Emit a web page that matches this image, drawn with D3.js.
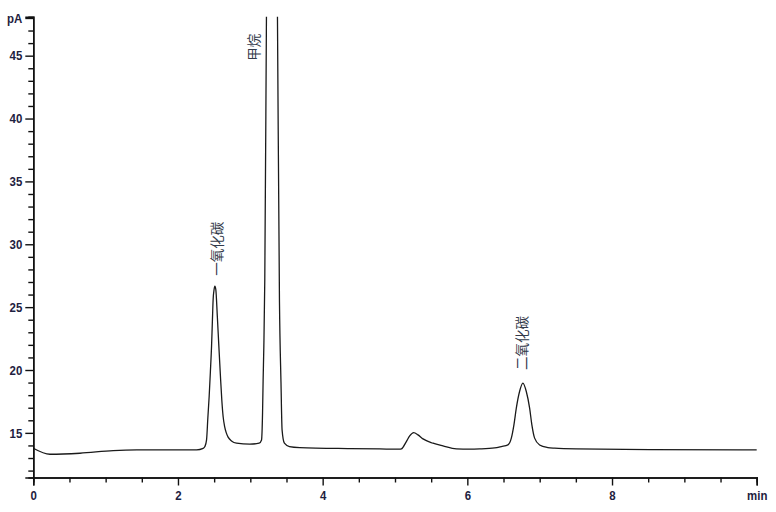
<!DOCTYPE html>
<html>
<head>
<meta charset="utf-8">
<script src="https://cdn.jsdelivr.net/npm/d3@7"></script>
<style>
  html, body { margin: 0; padding: 0; background: #fff; }
  svg { display: block; }
  .tick-label { font-family: "Liberation Sans", Arial, sans-serif; font-weight: bold; font-size: 13px; fill: #1e2140; }
  .peak-label { font-family: "Noto Sans CJK SC", sans-serif; font-size: 13.5px; fill: #333a4a; }
</style>
</head>
<body>
<svg id="chart" width="776" height="512"></svg>
<script>
// ---- data ----
const times = [0, 0.23, 0.645, 1.105, 1.43, 2.257, 2.348,
  2.372, 2.395, 2.413, 2.431, 2.448, 2.464, 2.475, 2.486, 2.499, 2.51, 2.523, 2.544, 2.565, 2.586, 2.606, 2.624, 2.645, 2.668, 2.693, 2.74, 2.809, 2.993, 3.122,
  3.155, 3.169, 3.177, 3.187, 3.2, 3.223, 3.248, 3.297, 3.345, 3.375, 3.403, 3.424, 3.439, 3.471, 3.541, 3.683,
  4.375, 4.789, 5.065, 5.088, 5.157, 5.203, 5.258, 5.318, 5.387, 5.525, 5.663, 5.848, 6.032, 6.17,
  6.377, 6.47, 6.561, 6.608, 6.644, 6.677, 6.722, 6.768, 6.815, 6.861, 6.892, 6.93, 6.999, 7.113, 7.206,
  7.506, 8.518, 10];
const signal = [13.78, 13.30, 13.38, 13.59, 13.64, 13.64, 13.76,
  13.91, 14.44, 16.2, 17.89, 19.86, 21.88, 23.77, 25.6, 26.4, 26.67, 26.4, 24.25, 21.9, 19.6, 17.6, 16.3, 15.5, 15.0, 14.66, 14.36, 14.18, 14.10, 14.18,
  14.44, 16.57, 19.2, 21.9, 27.2, 48.2, 70, 100, 70, 48.2, 25.4, 19, 15.24, 14.18, 13.91, 13.83,
  13.75, 13.72, 13.70, 13.72, 14.31, 14.76, 15.02, 14.84, 14.52, 14.18, 13.96, 13.72, 13.70, 13.72,
  13.80, 13.91, 14.04, 14.58, 15.64, 16.97, 18.29, 18.96, 18.29, 16.97, 15.64, 14.58, 14.04, 13.83, 13.78,
  13.72, 13.67, 13.64];

const peakNames = ["一氧化碳", "甲烷", "二氧化碳"];
const peakLabelTimes = [2.52, 3.035, 6.735];
const peakLabelValues = [27.5, 44.6, 20.0];

const xMajorTicks = [0, 2, 4, 6, 8, 10];
const xMajorLabels = ["0", "2", "4", "6", "8", "min"];
const yMajorTicks = [15, 20, 25, 30, 35, 40, 45, 48];
const yMajorLabels = ["15", "20", "25", "30", "35", "40", "45", "pA"];

// ---- layout ----
const svg = d3.select("#chart");
const mLeft = 33.3, mRight = 756.7, mTop = 16.7, mBottom = 477.5;
const x = d3.scaleLinear().domain([0, 10]).range([mLeft, mRight]);
const y = d3.scaleLinear().domain([11.45, 48.1]).range([mBottom, mTop]);
const squeeze = 0.88;

const xMinor = d3.range(0, 10.001, 0.5).filter(v => !xMajorTicks.includes(v));
const yMinor = d3.range(12, 48.001, 1).filter(v => !yMajorTicks.includes(v));

// clip for the signal
svg.append("defs").append("clipPath").attr("id", "plotclip")
  .append("rect").attr("x", mLeft).attr("y", mTop).attr("width", mRight - mLeft + 2).attr("height", mBottom - mTop);

const pts = times.map((t, i) => [t, signal[i]]);
const line = d3.line().x(d => x(d[0])).y(d => y(d[1])).curve(d3.curveMonotoneX);
svg.append("path")
  .attr("d", line(pts))
  .attr("clip-path", "url(#plotclip)")
  .attr("fill", "none")
  .attr("stroke", "#1a1a1a")
  .attr("stroke-width", 1.3)
  .attr("stroke-linejoin", "round");

// ---- axes ----
const xAxisMajor = d3.axisBottom(x).tickValues(xMajorTicks).tickSize(8).tickPadding(5)
  .tickFormat((d, i) => xMajorLabels[i]);
const xAxisMinor = d3.axisBottom(x).tickValues(xMinor).tickSize(5).tickFormat("");
const yAxisMajor = d3.axisLeft(y).tickValues(yMajorTicks).tickSize(8).tickPadding(3)
  .tickFormat((d, i) => yMajorLabels[i]);
const yAxisMinor = d3.axisLeft(y).tickValues(yMinor).tickSize(5).tickFormat("");

function styleAxis(g) {
  g.attr("font-family", null).attr("font-size", null);
  g.select(".domain").attr("stroke", "#111").attr("stroke-width", 1.5);
  g.selectAll(".tick line").attr("stroke", "#111").attr("stroke-width", 1.4);
  g.selectAll(".tick text").attr("class", "tick-label").attr("fill", null)
    .each(function() {
      const t = d3.select(this);
      const xv = +t.attr("x") || 0;
      t.attr("x", xv / squeeze).attr("transform", `scale(${squeeze},1)`);
    });
}

const gx = svg.append("g").attr("transform", `translate(0,${mBottom})`);
gx.call(xAxisMinor); styleAxis(gx);
const gx2 = svg.append("g").attr("transform", `translate(0,${mBottom})`);
gx2.call(xAxisMajor); styleAxis(gx2);

const gy = svg.append("g").attr("transform", `translate(${mLeft},0)`);
gy.call(yAxisMinor); styleAxis(gy);
const gy2 = svg.append("g").attr("transform", `translate(${mLeft},0)`);
gy2.call(yAxisMajor); styleAxis(gy2);

// ---- peak labels ----
peakNames.forEach((name, i) => {
  const px = x(peakLabelTimes[i]), py = y(peakLabelValues[i]);
  svg.append("text")
    .attr("class", "peak-label")
    .attr("transform", `translate(${px},${py}) rotate(-90)`)
    .attr("text-anchor", "start")
    .attr("dominant-baseline", "central")
    .text(name);
});
</script>
</body>
</html>
